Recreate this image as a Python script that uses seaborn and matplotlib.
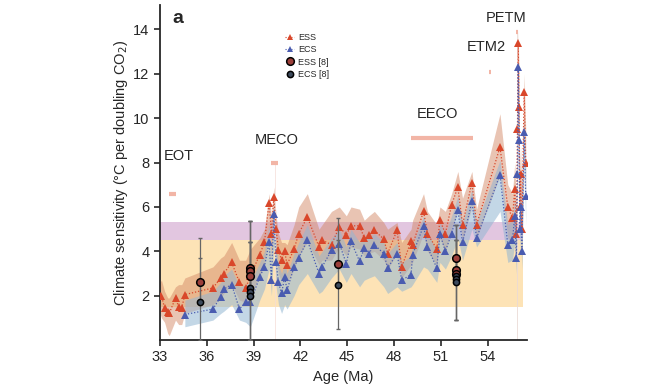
import numpy as np
import pandas as pd
import seaborn as sns
import matplotlib.pyplot as plt
from matplotlib.lines import Line2D

nan = np.nan

# age (Ma) and climate sensitivity estimates
age = [33.0, 33.1, 33.3, 33.5, 33.6, 34.0, 34.2, 34.4, 34.6, 36.4, 36.9, 37.1, 37.6,
       38.1, 38.5, 38.8, 39.4, 39.7, 40.0, 40.15, 40.3, 40.45, 40.6, 40.8, 41.0,
       41.15, 41.6, 41.9, 42.45, 43.2, 43.4, 44.0, 44.5, 44.95, 45.25, 45.8, 46.1,
       46.4, 46.75, 47.35, 47.6, 48.2, 48.5, 49.1, 49.2, 49.9, 50.15, 50.75, 50.95,
       51.3, 51.7, 52.1, 52.4, 53.0, 53.3, 54.8, 55.3, 55.6, 55.75, 55.85, 55.92,
       55.97, 56.02, 56.07, 56.12, 56.2, 56.35, 56.45]
ess = [2.0, 2.0, 1.45, 1.25, 1.2, 1.9, 1.5, 1.45, 2.05, 2.35, 2.8, 3.0, 3.5,
       2.6, 2.35, 2.9, 3.85, 4.4, 6.2, 4.8, 6.45, 5.0, 4.05, 3.6, 4.0,
       3.4, 4.1, 4.8, 5.55, 4.2, 4.5, 4.3, 5.1, 4.75, 5.15, 5.15, 4.6,
       4.75, 4.95, 4.55, 3.9, 4.95, 3.3, 4.45, 4.3, 5.8, 4.8, 4.1, 5.4,
       4.8, 6.1, 6.9, 5.2, 7.1, 5.2, 8.7, 6.0, 5.5, 6.8, 4.8, 9.5,
       13.4, 10.5, 6.0, 7.5, 5.0, 11.2, 8.0]
ess_lo = [1.2, 1.0, 0.8, 0.3, 0.2, 0.9, 0.7, 0.7, 1.2, 1.6, 1.9, 2.1, 2.5,
          1.8, 1.7, 2.0, 2.9, 3.4, 5.0, 3.8, 5.2, 3.8, 3.0, 2.6, 3.0,
          2.6, 3.2, 3.8, 4.4, 3.4, 3.6, 3.6, 4.2, 3.8, 4.2, 4.1, 3.8,
          3.9, 4.0, 3.6, 3.2, 3.9, 2.8, 3.4, 3.5, 4.8, 4.0, 3.4, 4.6,
          4.0, 5.0, 5.8, 4.5, 6.0, 4.6, 7.4, 4.6, 4.4, 5.4, 3.8, 7.8,
          11.5, 8.6, 4.6, 5.8, 3.8, 9.5, 6.5]
ess_hi = [2.6, 2.7, 2.2, 1.9, 1.9, 2.4, 2.5, 2.5, 2.8, 3.3, 3.7, 3.8, 4.4,
          3.6, 3.6, 4.1, 4.6, 5.0, 6.6, 5.6, 6.9, 5.6, 4.8, 4.4, 4.4,
          4.3, 5.2, 6.0, 6.6, 5.0, 5.2, 5.8, 6.0, 5.6, 6.0, 5.9, 5.4,
          5.6, 5.8, 5.3, 5.0, 5.3, 4.4, 5.0, 5.4, 6.6, 5.8, 5.2, 6.0,
          5.8, 6.6, 7.6, 6.4, 7.6, 5.9, 10.2, 7.0, 6.6, 8.0, 6.0, 11.0,
          14.0, 12.0, 7.4, 8.8, 6.5, 12.0, 9.5]
ecs = [nan, nan, nan, nan, nan, nan, nan, nan, 1.15, 1.4, 1.95, 2.3, 2.5,
       1.4, 1.7, 1.7, 2.85, 3.3, 4.4, 2.7, 5.7, 3.5, 2.6, 2.1, 2.85,
       2.25, 3.3, 3.7, 4.5, 3.0, 3.3, 4.05, 4.35, 3.45, 4.45, 3.55, 4.15,
       3.9, 4.3, 3.9, 3.25, 3.9, 2.7, 2.95, 3.85, 5.15, 4.2, 3.25, 4.8,
       4.0, 4.8, 5.85, 4.4, 6.25, 4.6, 7.45, 4.3, 4.5, 5.6, 3.7, 7.5,
       12.3, 9.0, 5.0, 6.0, 4.0, 9.4, 6.5]
ecs_lo = [nan, nan, nan, nan, nan, nan, nan, nan, 0.6, 0.9, 1.2, 1.3, 1.6,
          0.9, 0.8, 0.6, 1.8, 2.3, 3.2, 2.0, 4.3, 2.4, 1.6, 1.2, 1.6,
          1.4, 2.0, 2.5, 3.0, 2.1, 2.2, 2.8, 3.2, 2.6, 3.0, 2.4, 2.7,
          2.8, 2.9, 2.4, 2.1, 2.4, 2.2, 2.4, 2.5, 3.3, 3.2, 2.6, 3.5,
          3.2, 3.8, 4.6, 3.6, 5.0, 4.2, 5.8, 3.5, 3.6, 4.4, 3.0, 6.0,
          10.2, 7.5, 4.0, 4.8, 3.2, 7.8, 5.2]
ecs_hi = [nan, nan, nan, nan, nan, nan, nan, nan, 1.8, 2.2, 2.6, 2.9, 3.2,
          2.4, 2.5, 2.6, 3.5, 4.0, 5.2, 3.8, 6.2, 4.2, 3.4, 3.0, 3.5,
          3.0, 3.9, 4.4, 5.2, 3.8, 4.0, 4.6, 5.0, 4.2, 5.0, 4.4, 4.6,
          4.6, 4.8, 4.4, 3.9, 4.4, 3.5, 3.8, 4.3, 5.6, 4.9, 4.0, 5.3,
          4.8, 5.6, 6.5, 5.3, 6.8, 5.3, 8.1, 5.2, 5.4, 6.4, 4.6, 8.6,
          13.0, 10.2, 6.0, 7.0, 5.0, 10.2, 7.6]

# reference estimates [8]
ref_age = [35.6, 38.8, 38.8, 38.8, 44.4, 52.0, 52.0, 52.0]
ref_ess = [2.6, 3.25, 3.1, 2.9, 3.45, 3.7, 3.15, 3.0]
ref_ess_lo = [0.0, 0.0, 0.0, 0.0, 0.5, 0.9, 0.9, 0.9]
ref_ess_hi = [4.6, 5.35, 5.35, 5.35, 5.5, 5.2, 5.2, 5.2]
ref_ecs = [1.7, 2.35, 2.15, 2.0, 2.5, 2.9, 2.75, 2.6]
ref_ecs_hi = [3.7, 4.4, 4.4, 4.4, 4.5, 4.5, 4.5, 4.5]

events = ["EOT", "MECO", "EECO", "ETM2", "PETM"]
event_start = [33.6, 40.15, 49.1, 54.1, 55.85]
event_end = [34.0, 40.55, 53.1, 54.2, 55.95]
event_level = [6.6, 8.0, 9.1, 12.1, 13.9]
label_x = [34.2, 40.5, 50.8, 53.9, 55.2]
label_y = [8.3, 9.0, 10.2, 13.2, 14.5]

df = pd.DataFrame({"age": age, "ess": ess, "ecs": ecs})

ess_col = "#d9472b"
ecs_col = "#4a5cb0"

sns.set_style("ticks")
plt.rcParams["font.family"] = ["Liberation Sans", "DejaVu Sans"]
fig, ax = plt.subplots(figsize=(6.5, 3.9), dpi=100)
fig.subplots_adjust(left=0.246, right=0.81, bottom=0.128, top=0.987)

# background likely ranges
ax.fill_between([33, 56.3], 1.5, 4.5, color="#fde3b6", lw=0, zorder=0)
ax.fill_between([33, 56.3], 4.5, 5.3, color="#e2c6e0", lw=0, zorder=0)

ax.fill_between(age, ess_lo, ess_hi, color="#d48a68", alpha=0.5, lw=0, zorder=1)
ax.fill_between(age, ecs_lo, ecs_hi, color="#93b6d3", alpha=0.55, lw=0, zorder=1)

sns.lineplot(data=df, x="age", y="ess", ax=ax, sort=False, estimator=None,
             color=ess_col, lw=0.9, ls=(0, (1, 1.5)), marker="^", markersize=5.5,
             markeredgewidth=0, zorder=3)
sns.lineplot(data=df.dropna(), x="age", y="ecs", ax=ax, sort=False, estimator=None,
             color=ecs_col, lw=0.9, ls=(0, (1, 1.5)), marker="^", markersize=5.5,
             markeredgewidth=0, zorder=3)

# reference error bars and points
ax.errorbar(ref_age, ref_ess, yerr=[np.subtract(ref_ess, ref_ess_lo), np.subtract(ref_ess_hi, ref_ess)],
            fmt="none", ecolor="#666666", elinewidth=0.9, capsize=1.5, zorder=4)
ax.errorbar(ref_age, ref_ecs, yerr=[np.zeros(len(ref_ecs)), np.subtract(ref_ecs_hi, ref_ecs)],
            fmt="none", ecolor="#666666", elinewidth=0.9, capsize=1.5, zorder=4)
ax.scatter(ref_age, ref_ess, s=30, color="#9c3f3a", edgecolor="black", lw=1.1, zorder=5)
ax.scatter(ref_age, ref_ecs, s=20, color="#3c4a5c", edgecolor="black", lw=1.1, zorder=5)

# events
for name, s, e, lev, lx, ly in zip(events, event_start, event_end, event_level, label_x, label_y):
    ax.plot([s, e], [lev, lev], color="#f2b5a6", lw=3, solid_capstyle="butt", zorder=2)
    ax.text(lx, ly, name, fontsize=10.5, ha="center", va="center", clip_on=False)
ax.plot([40.35, 40.35], [0, 8.0], color="#f4dcd6", lw=0.5, zorder=1)
ax.plot([55.9, 55.9], [0, 13.9], color="#eadad6", lw=0.6, zorder=1)

ax.set_xlim(33, 56.5)
ax.set_ylim(0, 15.1)
ax.set_xticks([33, 36, 39, 42, 45, 48, 51, 54])
ax.set_yticks([2, 4, 6, 8, 10, 12, 14])
ax.tick_params(labelsize=10.5, length=4, width=1.2, direction="out")
sns.despine(ax=ax)
for sp in ["left", "bottom"]:
    ax.spines[sp].set_linewidth(1.3)
ax.set_xlabel("Age (Ma)", fontsize=10.5, labelpad=4)
ax.set_ylabel("Climate sensitivity (°C per doubling CO$_2$)", fontsize=10.5, labelpad=2)
ax.text(0.035, 0.985, "a", transform=ax.transAxes, fontsize=14, fontweight="bold",
        ha="left", va="top")

handles = [
    Line2D([], [], color=ess_col, ls=":", marker="^", markersize=4, markeredgewidth=0, lw=0.8),
    Line2D([], [], color=ecs_col, ls=":", marker="^", markersize=4, markeredgewidth=0, lw=0.8),
    Line2D([], [], ls="none", marker="o", markersize=5.5, color="#9c3f3a", markeredgecolor="black", markeredgewidth=1.1),
    Line2D([], [], ls="none", marker="o", markersize=4.5, color="#3c4a5c", markeredgecolor="black", markeredgewidth=1.1),
]
ax.legend(handles, ["ESS", "ECS", "ESS [8]", "ECS [8]"], loc="upper left",
          bbox_to_anchor=(0.32, 0.94), frameon=False, fontsize=6.5,
          handlelength=1.0, handletextpad=0.4, labelspacing=0.35)

fig.savefig("out.png", dpi=100)
plt.close(fig)
